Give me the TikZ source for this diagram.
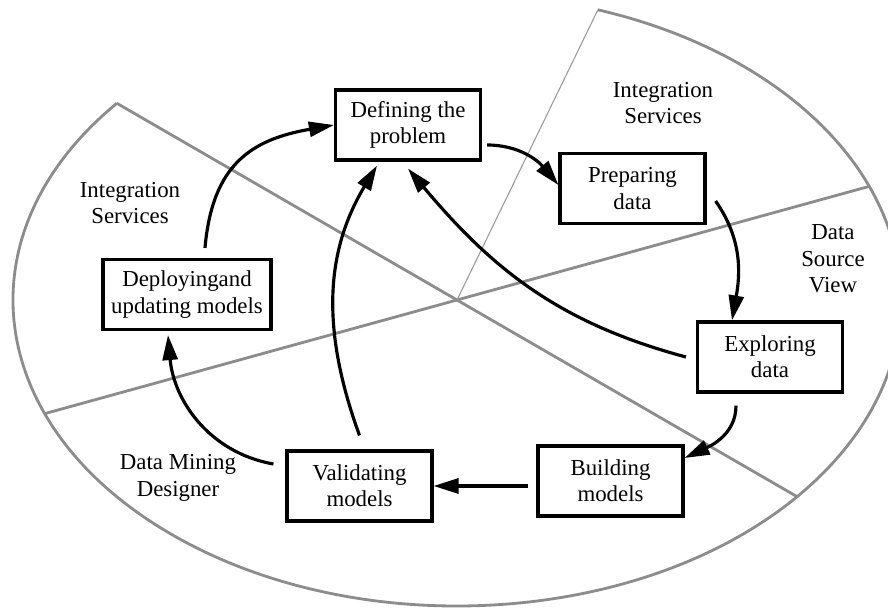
\documentclass[tikz,border=0pt]{standalone}
\usepackage{fontspec}
\setmainfont{Liberation Serif}
\usepackage{xcolor}
\usepackage{tikz}
\usetikzlibrary{arrows.meta}

\begin{document}
\begin{tikzpicture}[box/.style={rectangle, draw, line width=1.8pt, fill=white, minimum width=2.9cm, minimum height=1.4cm, align=center, font=\fontsize{13}{15}\selectfont},
  region/.style={align=center, font=\fontsize{13}{15}\selectfont},
  arr/.style={line width=1.8pt, -{Triangle[length=0.5cm,width=0.3cm]}},
  part/.style={draw=black!45, line width=1.6pt}]
\useasboundingbox (-9.14,-6.16) rectangle (8.62,6.0);
\draw[part] (140:8.88 and 6.12) arc[start angle=140, end angle=431.5, x radius=8.88, y radius=6.12];
\draw[part] (140:8.88 and 6.12) -- (320:8.88 and 6.12);
\draw[part] (201.8:8.88 and 6.12) -- (21.8:8.88 and 6.12);
\draw[draw=black!40, line width=0.6pt] (0,0) -- (71.5:8.88 and 6.12);

\node[box] (1) at (-0.98,3.5) {Defining the\\problem};
\node[box] (2) at (3.51,2.23) {Preparing\\data};
\node[box] (3) at (6.26,-1.14) {Exploring\\data};
\node[box] (4) at (3.07,-3.62) {Building\\models};
\node[box] (5) at (-1.95,-3.72) {Validating\\models};
\node[box, minimum width=3.36cm] (6) at (-5.4,0.11) {Deployingand\\updating models};

\node[region] (a) at (-6.54,1.94) {Integration\\Services};
\node[region] (b) at (4.12,3.94) {Integration\\Services};
\node[region] (c) at (7.52,0.82) {Data\\Source\\View};
\node[region] (d) at (-5.58,-3.56) {Data Mining\\Designer};

\draw[arr] ([xshift=0.36cm,yshift=0.2cm]6.north) to[out=85,in=190,looseness=1.2] (1.west);
\draw[arr] ([xshift=0.1cm,yshift=-0.4cm]1.east) to[out=0,in=130] ([yshift=0.07cm]2.west);
\draw[arr] ([xshift=0.18cm,yshift=-0.25cm]2.east) to[out=-55,in=80] ([xshift=-0.76cm]3.north);
\draw[arr] ([xshift=-0.2cm]3.west) to[out=165,in=-50] ([yshift=-0.14cm]1.south);
\draw[arr] ([xshift=-0.68cm,yshift=-0.24cm]3.south) to[out=-90,in=25] ([yshift=0.46cm]4.east);
\draw[arr, shorten <=0.16cm] (4.west |- 5.east) -- (5.east);
\draw[arr] ([xshift=-0.24cm,yshift=0.44cm]5.west) to[out=170,in=-85] ([xshift=-0.38cm,yshift=-0.08cm]6.south);
\draw[arr] ([yshift=0.28cm]5.north) to[out=110,in=-121] ([xshift=-0.62cm,yshift=-0.08cm]1.south);
\end{tikzpicture}
\end{document}
